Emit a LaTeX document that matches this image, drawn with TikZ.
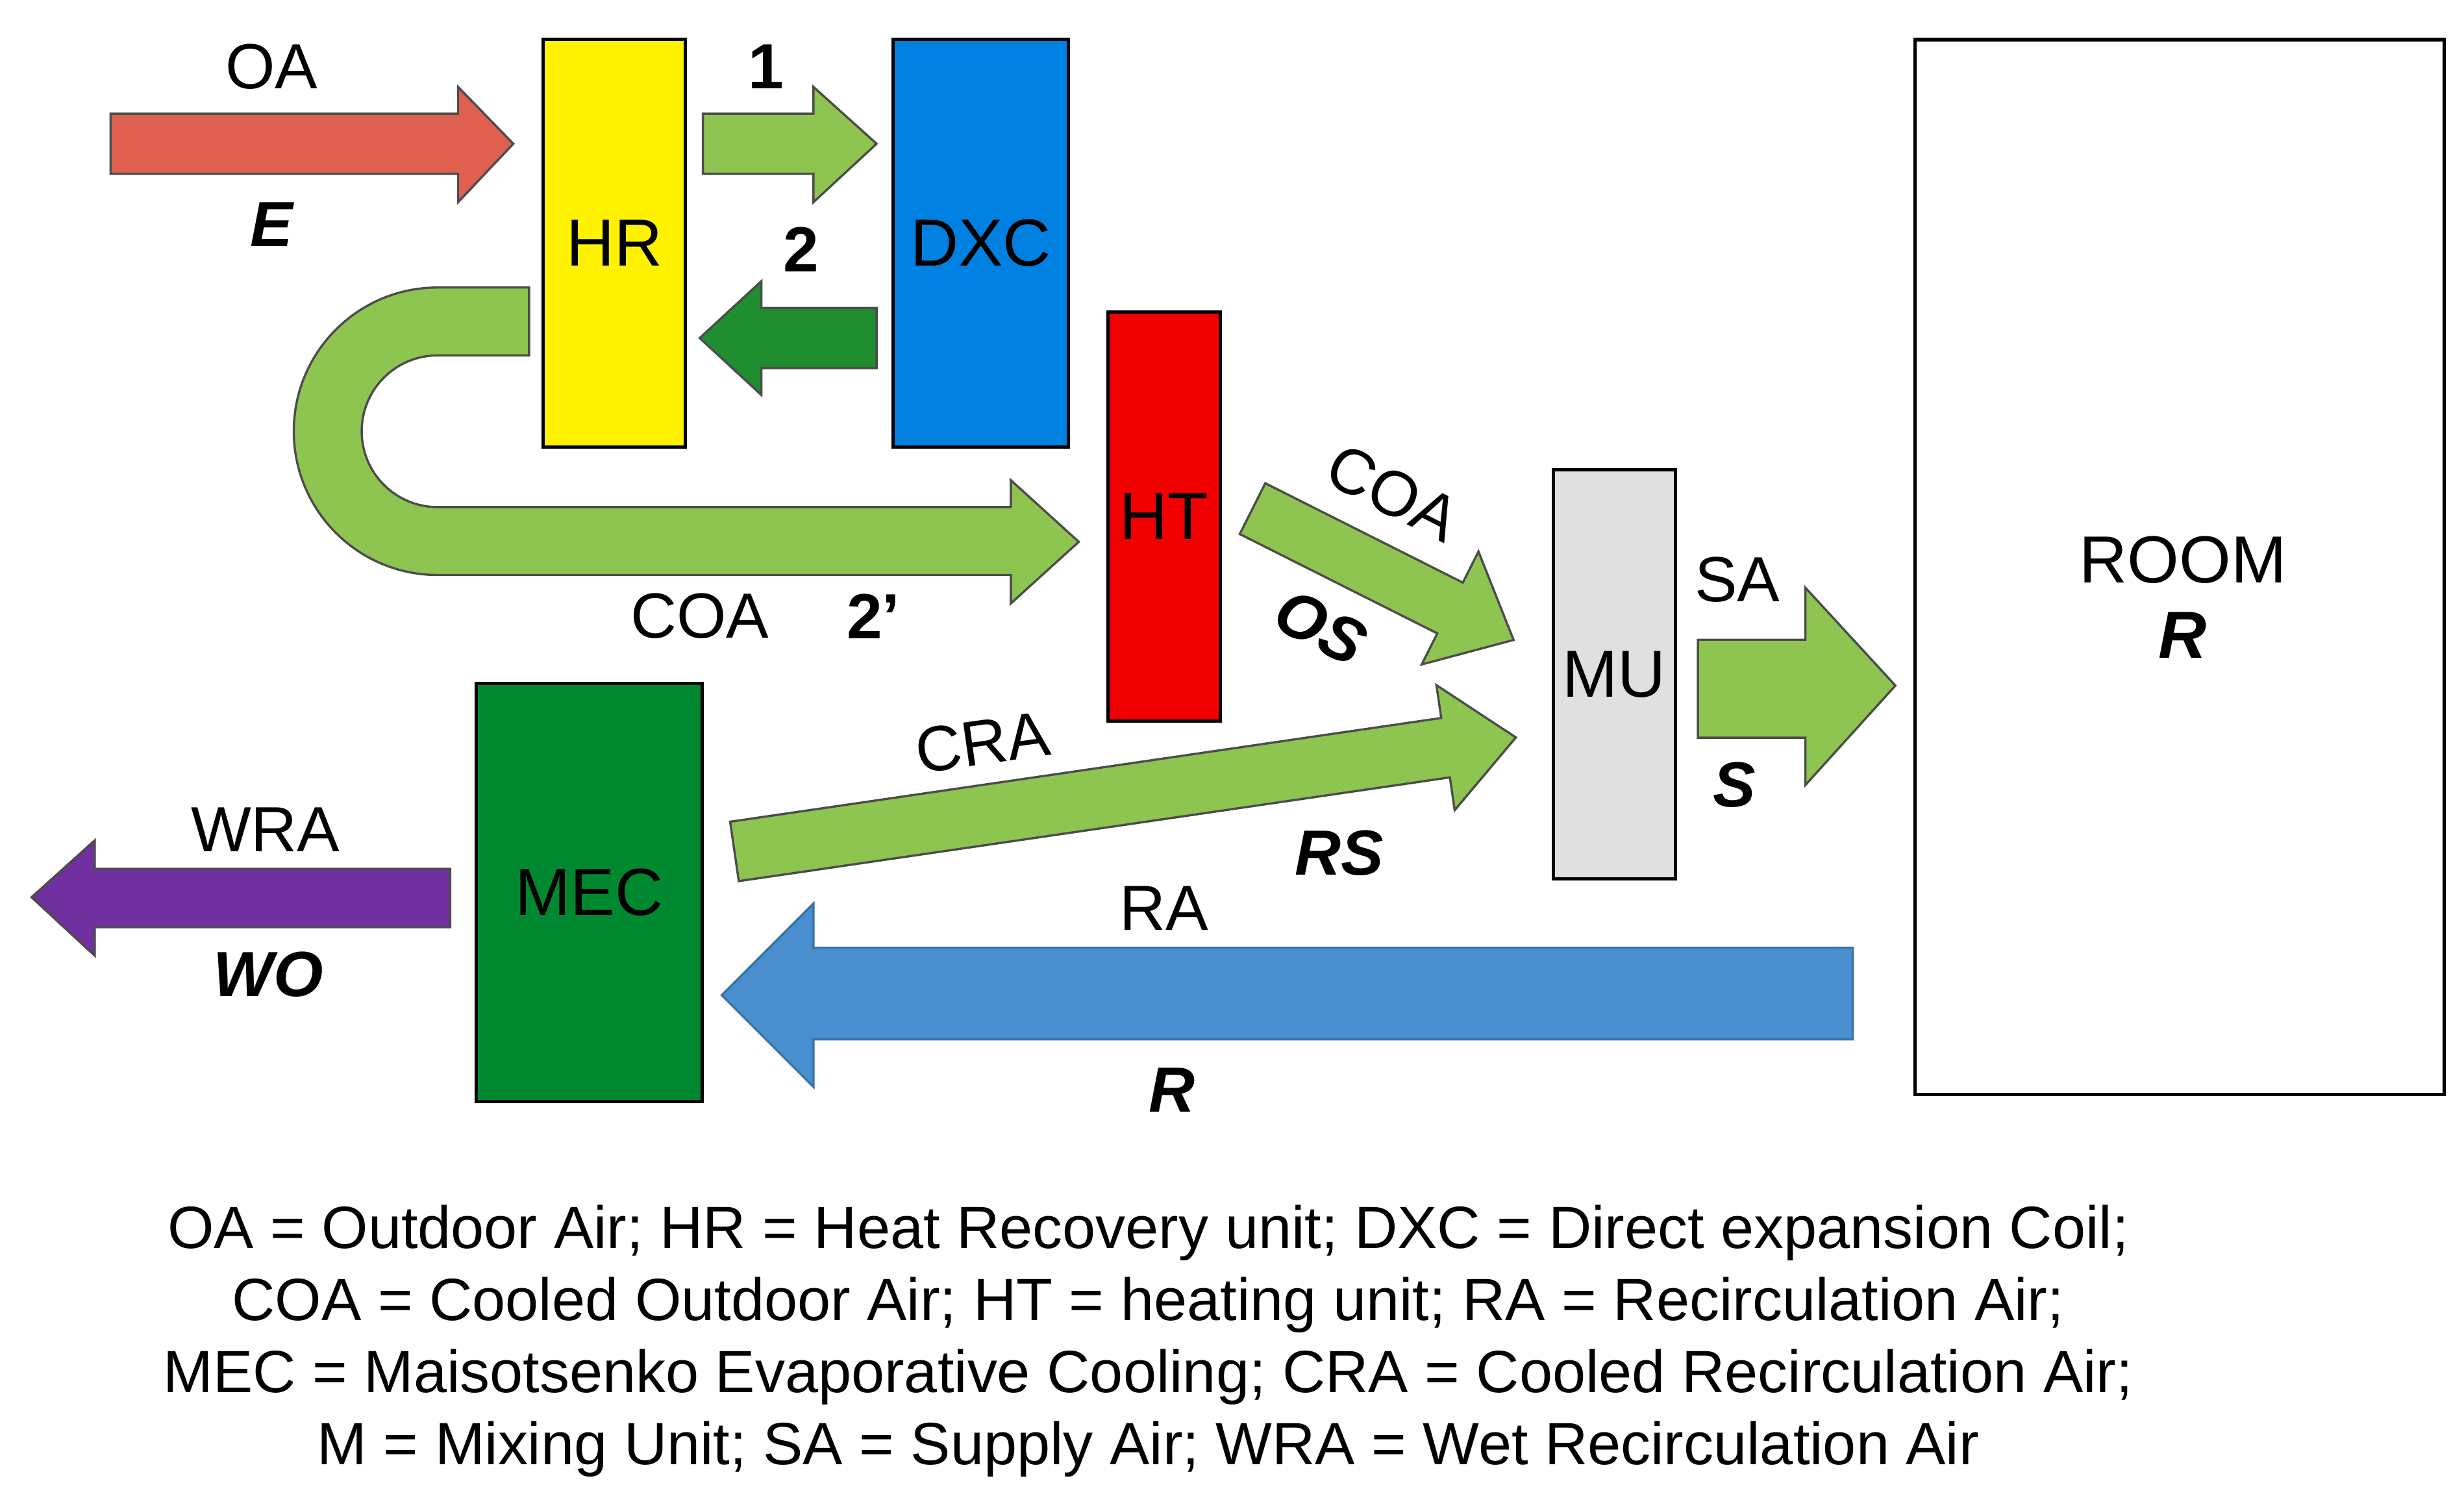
\documentclass[tikz,border=0pt]{standalone}
\usepackage{fontspec}
\setmainfont{Liberation Sans}
\begin{document}
\begin{tikzpicture}[x=0.02cm,y=0.02cm,
  box/.style={draw=black,line width=1.2pt},
  arr/.style={draw=black!70,line width=0.8pt},
  lab/.style={font=\fontsize{23}{26}\selectfont,inner sep=1pt},
  blab/.style={font=\fontsize{23}{26}\selectfont\bfseries\itshape,inner sep=1pt},
  nlab/.style={font=\fontsize{23}{26}\selectfont\bfseries,inner sep=1pt},
  big/.style={font=\fontsize{24}{27}\selectfont}]
\definecolor{lg}{HTML}{8EC450}
\definecolor{dg}{HTML}{1E8E2E}
\definecolor{oa}{HTML}{E06050}
\definecolor{wra}{HTML}{7030A0}
\definecolor{ra}{HTML}{4A90D0}
\useasboundingbox (0,0) rectangle (1560,-948);
% boxes
\node[box,fill=yellow,minimum width=1.8cm,minimum height=5.16cm,big] (HR) at (389,-154) {HR};
\node[box,fill={rgb,255:red,0;green,128;blue,224},minimum width=2.22cm,minimum height=5.16cm,big] (DXC) at (621,-154) {DXC};
\node[box,fill={rgb,255:red,240;green,0;blue,0},minimum width=1.42cm,minimum height=5.18cm,big] (HT) at (737,-327) {HT};
\node[box,fill={rgb,255:red,224;green,224;blue,224},minimum width=1.42cm,minimum height=5.18cm,big] (MU) at (1022,-427) {MU};
\node[box,fill={rgb,255:red,0;green,136;blue,48},minimum width=2.86cm,minimum height=5.3cm,big] (MEC) at (373,-565) {MEC};
\node[box,fill=white,minimum width=6.7cm,minimum height=13.36cm] (ROOM) at (1380,-359) {};
\node[big,align=center] at (1382,-378) {ROOM\\[0pt]\textbf{\textit{R}}};
% OA arrow
\filldraw[arr,fill=oa] (70,-72)--(290,-72)--(290,-55)--(325,-91)--(290,-128)--(290,-110)--(70,-110)--cycle;
\node[lab] at (172,-42) {OA};
\node[blab] at (172,-142) {E};
% arrow 1
\filldraw[arr,fill=lg] (445,-72)--(515,-72)--(515,-55)--(555,-91)--(515,-128)--(515,-110)--(445,-110)--cycle;
\node[nlab] at (485,-42) {1};
% arrow 2
\filldraw[arr,fill=dg] (555,-195)--(482,-195)--(482,-178)--(443,-214)--(482,-250)--(482,-233)--(555,-233)--cycle;
\node[nlab] at (507,-158) {2};
% U arrow
\filldraw[arr,fill=lg] (335,-182)--(277,-182) arc[start angle=90,end angle=270,radius=91]
  --(640,-364)--(640,-382)--(683,-343)--(640,-304)--(640,-321)--(277,-321)
  arc[start angle=270,end angle=90,radius=48]--(335,-225)--cycle;
\node[lab] at (443,-390) {COA};
\node[nlab] at (553,-390) {2’};
% COA diagonal arrow
\begin{scope}[shift={(793,-322)},rotate=-26.7]
\filldraw[arr,fill=lg] (0,18)--(140,18)--(140,40)--(185,0)--(140,-40)--(140,-18)--(0,-18)--cycle;
\end{scope}
\node[lab,rotate=-27] at (882,-312) {COA};
\node[blab,rotate=-27] at (836,-397) {OS};
% CRA arrow
\begin{scope}[shift={(465,-539)},rotate=8.3]
\filldraw[arr,fill=lg] (0,19)--(455,19)--(455,40)--(500,0)--(455,-40)--(455,-19)--(0,-19)--cycle;
\end{scope}
\node[lab,rotate=8] at (622,-470) {CRA};
\node[blab] at (848,-540) {RS};
% SA arrow
\filldraw[arr,fill=lg] (1075,-405)--(1143,-405)--(1143,-372)--(1200,-434)--(1143,-497)--(1143,-467)--(1075,-467)--cycle;
\node[lab] at (1100,-367) {SA};
\node[blab] at (1098,-497) {S};
% WRA arrow
\filldraw[arr,fill=wra] (285,-550)--(60,-550)--(60,-532)--(20,-568)--(60,-605)--(60,-587)--(285,-587)--cycle;
\node[lab] at (168,-525) {WRA};
\node[blab] at (170,-617) {WO};
% RA arrow
\filldraw[arr,fill=ra,draw=ra!80!black] (1173,-600)--(515,-600)--(515,-572)--(457,-630)--(515,-688)--(515,-658)--(1173,-658)--cycle;
\node[lab] at (737,-575) {RA};
\node[blab] at (742,-690) {R};
% legend
\node[font=\fontsize{21.5}{26}\selectfont,align=center] (leg) at (727,-849) {OA = Outdoor Air; HR = Heat Recovery unit; DXC = Direct expansion Coil;\\
COA = Cooled Outdoor Air; HT = heating unit; RA = Recirculation Air;\\
MEC = Maisotsenko Evaporative Cooling; CRA = Cooled Recirculation Air;\\
M = Mixing Unit; SA = Supply Air; WRA = Wet Recirculation Air};
\end{tikzpicture}
\end{document}
